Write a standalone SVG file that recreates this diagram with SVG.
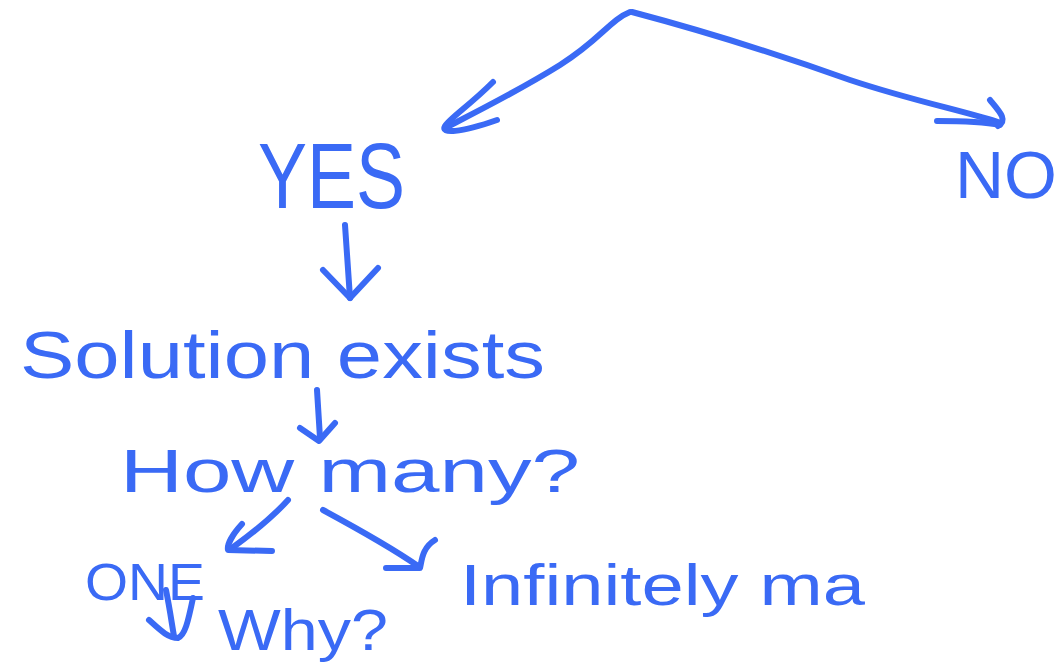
<svg xmlns="http://www.w3.org/2000/svg" width="1057" height="670" viewBox="0 0 1057 670">
<style>
.t{font-family:"Liberation Sans",Arial,sans-serif;fill:#3a6af5}
.c{fill:none;stroke:#3a6af5;stroke-width:6;stroke-linecap:round;stroke-linejoin:round}
</style>
<rect width="1057" height="670" fill="#ffffff"/>
<g id="connectors" class="c">
<path d="M630,12 C610,20 600,40 560,65 C520,90 480,110 445,128"/>
<path d="M493,82 C470,105 450,118 445,126 C440,134 460,133 497,120"/>
<path d="M632,12 C700,30 780,55 850,80 C910,100 960,110 998,122"/>
<path d="M990,100 C1000,112 1008,120 998,126"/>
<path d="M937,121 C960,121 985,122 1000,125"/>
<path d="M345,225 L350,298"/>
<path d="M323,270 L350,298 L378,268"/>
<path d="M317,390 L320,438"/>
<path d="M300,428 L319,441 L335,423"/>
<path d="M288,500 C270,520 250,535 232,548"/>
<path d="M242,524 C232,535 227,545 228,550 L272,551"/>
<path d="M323,510 C360,530 395,550 418,566"/>
<path d="M435,540 C422,548 422,560 420,568 L386,568"/>
<path d="M166,590 C170,610 172,625 174,636"/>
<path d="M149,620 C160,630 168,638 178,638 C185,635 188,622 193,598"/>
</g>
<g id="yes"><text class="t" x="258" y="208" font-size="92" textLength="147" lengthAdjust="spacingAndGlyphs">YES</text></g>
<g id="no"><text class="t" x="955" y="198" font-size="67" textLength="102" lengthAdjust="spacingAndGlyphs">NO</text></g>
<g id="solution"><text class="t" x="20" y="378" font-size="66" textLength="525" lengthAdjust="spacingAndGlyphs">Solution exists</text></g>
<g id="howmany"><text class="t" x="120" y="492" font-size="62" textLength="460" lengthAdjust="spacingAndGlyphs">How many?</text></g>
<g id="one"><text class="t" x="85" y="600" font-size="52" textLength="120" lengthAdjust="spacingAndGlyphs">ONE</text></g>
<g id="why"><text class="t" x="218" y="650" font-size="58" textLength="170" lengthAdjust="spacingAndGlyphs">Why?</text></g>
<g id="infinitely"><text class="t" x="460" y="605" font-size="58" textLength="405" lengthAdjust="spacingAndGlyphs">Infinitely ma</text></g>
</svg>
